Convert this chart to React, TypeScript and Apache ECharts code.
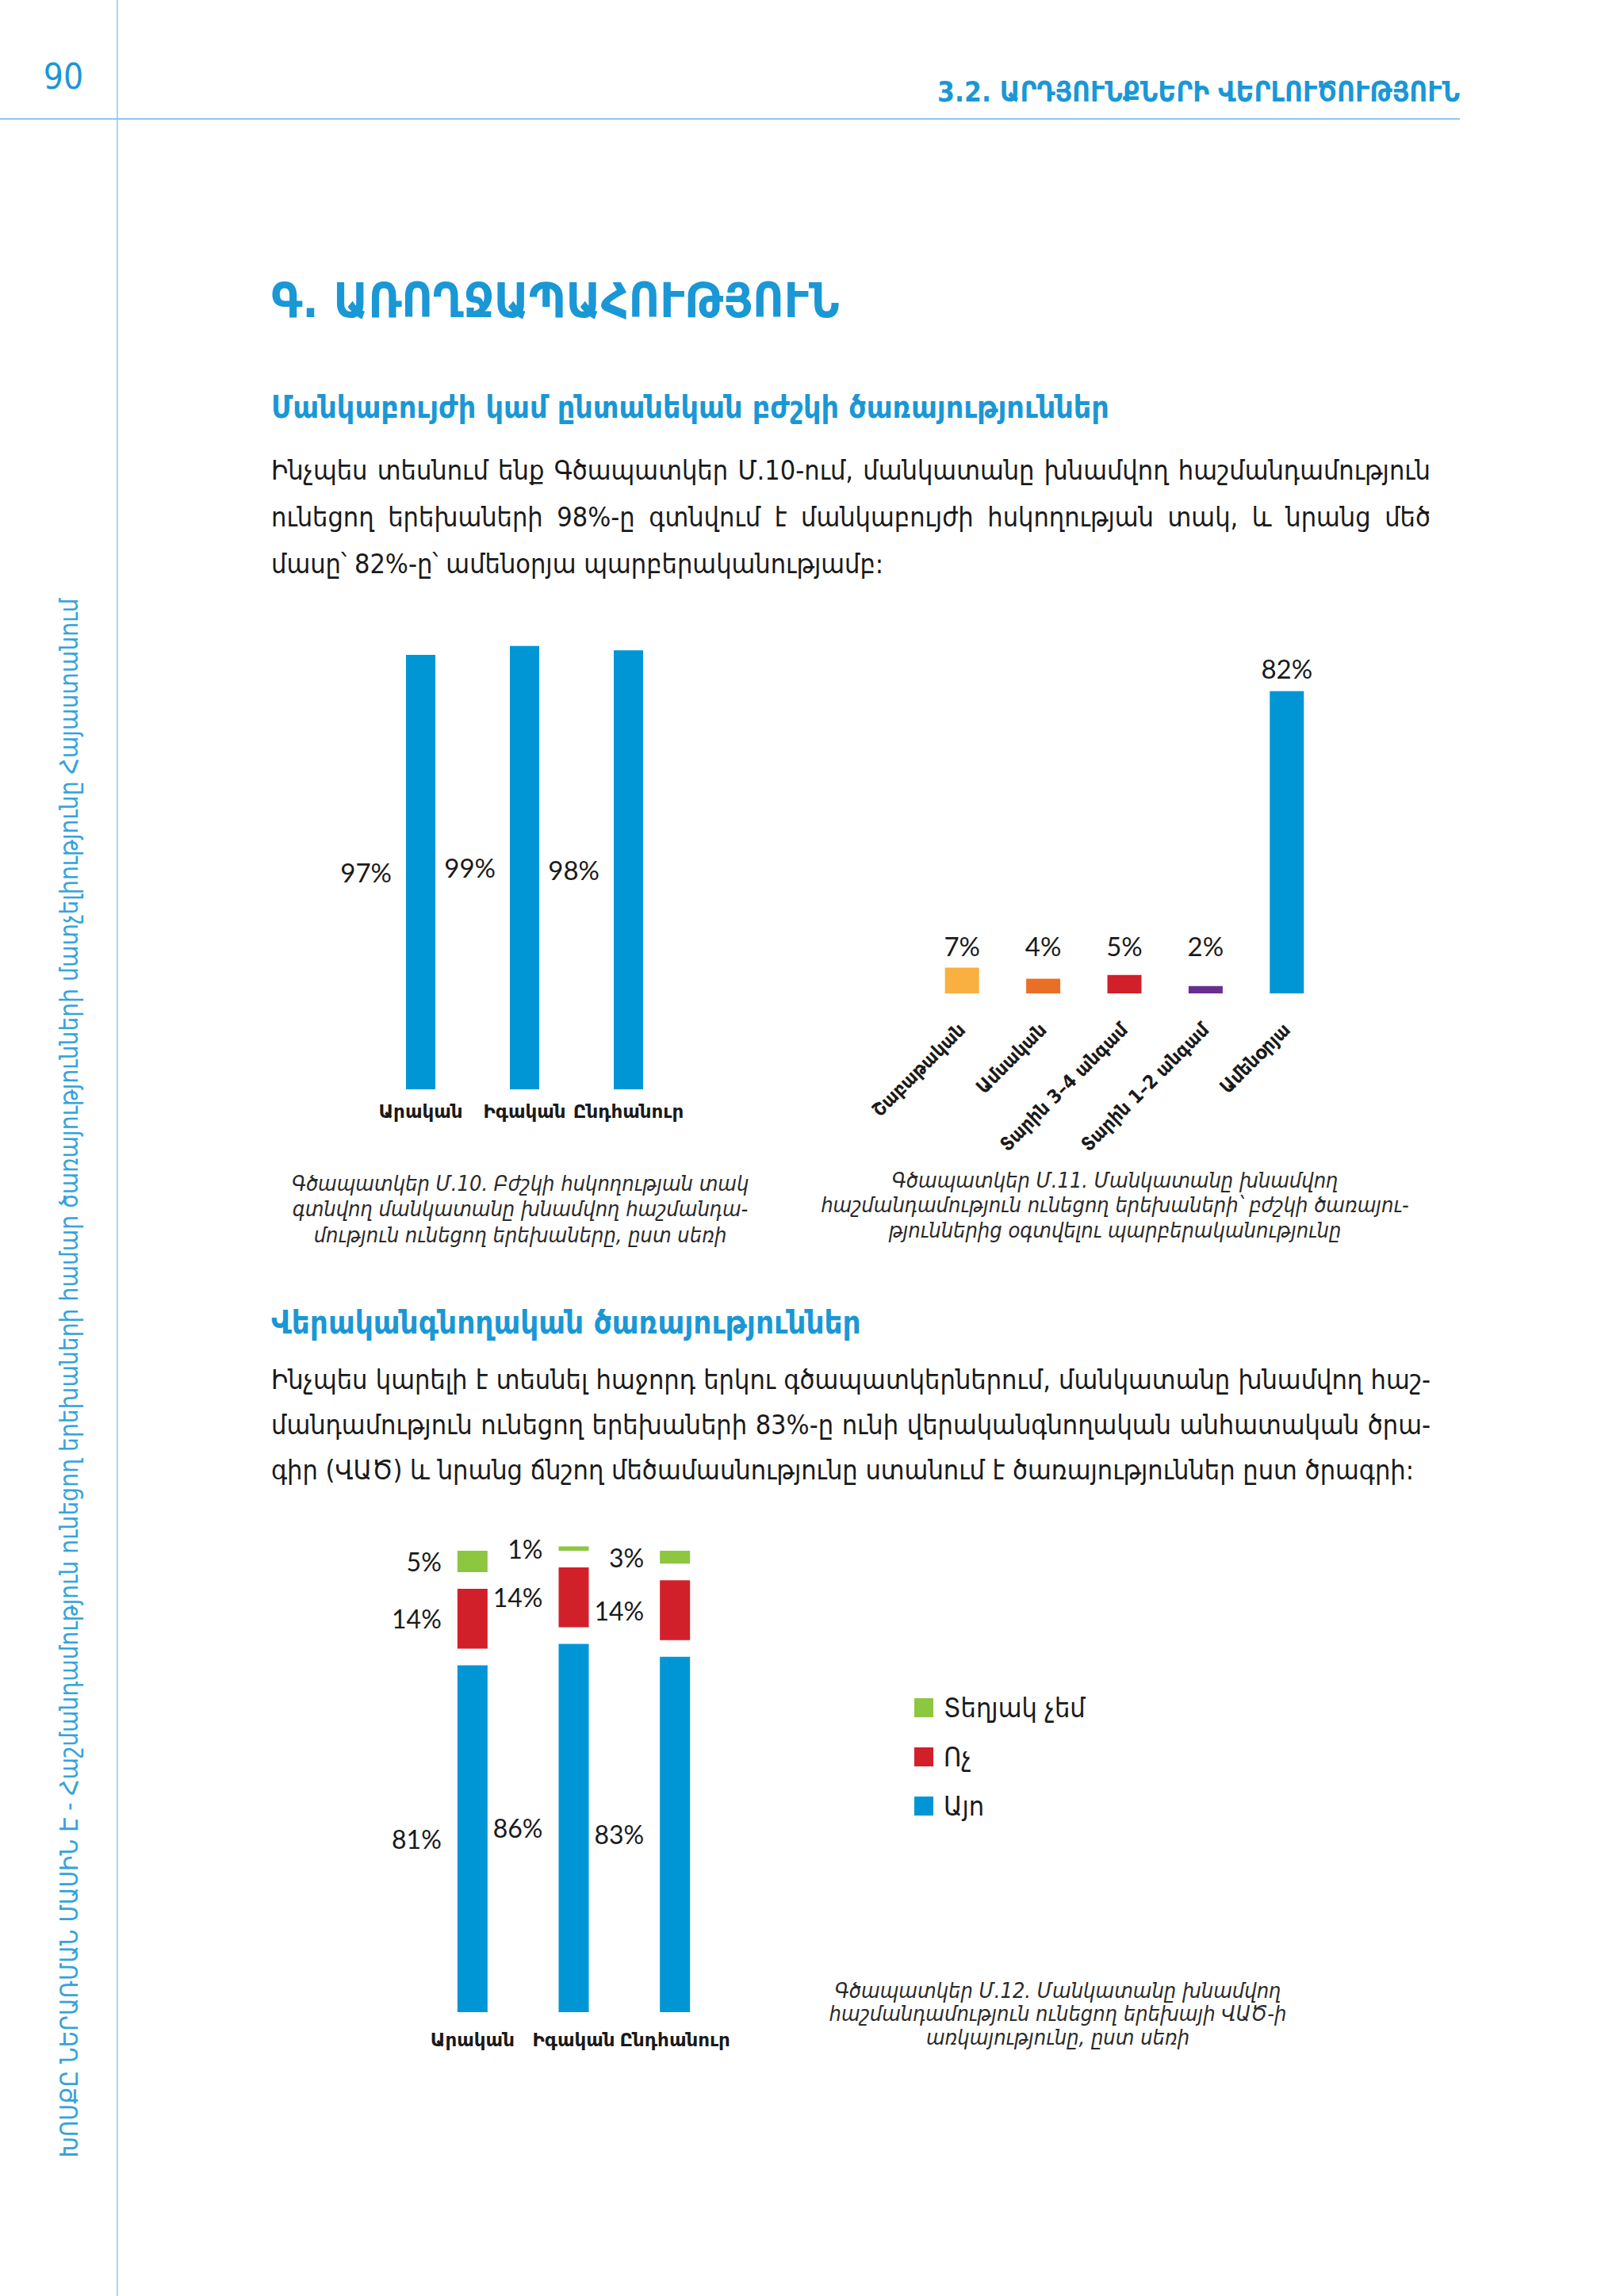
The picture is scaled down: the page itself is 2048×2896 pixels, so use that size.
import React, { useEffect, useRef } from "react";
import * as echarts from "echarts";

// ---------- DATA ----------
const genderCats = ["Արական", "Իգական", "Ընդհանուր"];
const underCareValues = [97, 99, 98];

const freqCats = ["Շաբաթական", "Ամսական", "Տարին 3–4 անգամ", "Տարին 1–2 անգամ", "Ամենօրյա"];
const freqValues = [7, 4, 5, 2, 82];
const freqColors = ["#F9B040", "#E96F27", "#D2202A", "#6A2D8F", "#0096D6"];

const ipYes = [81, 86, 83];
const ipNo = [14, 14, 14];
const ipDontKnow = [5, 1, 3];
const ipNames = ["Այո", "Ոչ", "Տեղյակ չեմ"];
const ipColors = ["#0096D6", "#D2202A", "#8DC63F"];

const pageNumber = "90";
const runningHead = "3.2. ԱՐԴՅՈՒՆՔՆԵՐԻ ՎԵՐԼՈՒԾՈՒԹՅՈՒՆ";
const chapterTitle = "Գ. ԱՌՈՂՋԱՊԱՀՈՒԹՅՈՒՆ";
const heading1 = "Մանկաբույժի կամ ընտանեկան բժշկի ծառայություններ";
const heading2 = "Վերականգնողական ծառայություններ";
const sideText =
  "ԽՈՍՔԸ ՆԵՐԱՌՄԱՆ ՄԱՍԻՆ Է - Հաշմանդամություն ունեցող երեխաների համար ծառայությունների մատչելիությունը Հայաստանում";

const para1 = [
  "Ինչպես տեսնում ենք Գծապատկեր Մ.10-ում, մանկատանը խնամվող հաշմանդամություն",
  "ունեցող երեխաների 98%-ը գտնվում է մանկաբույժի հսկողության տակ, և նրանց մեծ",
  "մասը՝ 82%-ը՝ ամենօրյա պարբերականությամբ:",
];
const para2 = [
  "Ինչպես կարելի է տեսնել հաջորդ երկու գծապատկերներում, մանկատանը խնամվող հաշ-",
  "մանդամություն ունեցող երեխաների 83%-ը ունի վերականգնողական անհատական ծրա-",
  "գիր (ՎԱԾ) և նրանց ճնշող մեծամասնությունը ստանում է ծառայություններ ըստ ծրագրի:",
];
const caption1 = [
  "Գծապատկեր Մ.10. Բժշկի հսկողության տակ",
  "գտնվող մանկատանը խնամվող հաշմանդա-",
  "մություն ունեցող երեխաները, ըստ սեռի",
];
const caption2 = [
  "Գծապատկեր Մ.11. Մանկատանը խնամվող",
  "հաշմանդամություն ունեցող երեխաների՝ բժշկի ծառայու-",
  "թյուններից օգտվելու պարբերականությունը",
];
const caption3 = [
  "Գծապատկեր Մ.12. Մանկատանը խնամվող",
  "հաշմանդամություն ունեցող երեխայի ՎԱԾ-ի",
  "առկայությունը, ըստ սեռի",
];

// ---------- STYLE ----------
const ARM = '"DejaVu Sans Condensed", "DejaVu Sans", sans-serif';
const ARM_BOLD = '"DejaVu Sans", sans-serif';
const NUM = 'Lato, "Open Sans", sans-serif';
const BLUE_TEXT = "#1A97D5";
const INK = "#1a1a1a";

function txt(x: number, y: number, text: string, o: any = {}) {
  const align = o.align || "left";
  return {
    type: "text",
    x,
    y,
    rotation: o.rotation || 0,
    style: {
      text,
      fill: o.fill || INK,
      fontSize: o.fontSize || 30,
      fontFamily: o.fontFamily || ARM,
      fontWeight: o.fontWeight || "normal",
      fontStyle: o.fontStyle || "normal",
      align,
      textAlign: align,
      verticalAlign: "middle",
      textVerticalAlign: "middle",
    },
  };
}

function captionLines(lines: string[], cx: number, y0: number, step: number) {
  return lines.map((l, i) =>
    txt(cx, y0 + i * step, l, { align: "center", fontSize: 27, fontStyle: "italic", fill: "#2a2a2a" })
  );
}

function segmentSeries(seg: number) {
  return {
    type: "custom",
    name: ipNames[seg],
    xAxisIndex: 2,
    yAxisIndex: 2,
    itemStyle: { color: ipColors[seg] },
    encode: { x: 0, y: 1 },
    data: genderCats.map((_, i) => [i, ipYes[i], ipNo[i], ipDontKnow[i]]),
    renderItem: (params: any, api: any) => {
      const i = api.value(0);
      const vals = [api.value(1), api.value(2), api.value(3)];
      const base = api.coord([i, 0]);
      const unit = api.size([1, 1])[1];
      const bw = 38;
      const gap = 21;
      let bottom = base[1];
      for (let k = 0; k < seg; k++) bottom -= vals[k] * unit + gap;
      const h = vals[seg] * unit;
      const x = base[0] - bw / 2;
      return {
        type: "group",
        children: [
          {
            type: "rect",
            shape: { x, y: bottom - h, width: bw, height: h },
            style: { fill: ipColors[seg] },
          },
          {
            type: "text",
            x: x - 20,
            y: bottom - h / 2,
            style: {
              text: vals[seg] + "%",
              fill: INK,
              fontSize: 32,
              fontFamily: NUM,
              align: "right",
              textAlign: "right",
              verticalAlign: "middle",
              textVerticalAlign: "middle",
            },
          },
        ],
      };
    },
  };
}

const catLabel = (margin: number) => ({
  show: true,
  margin,
  fontSize: 23,
  fontWeight: "bold",
  fontFamily: ARM_BOLD,
  color: INK,
  interval: 0,
});

export default function App() {
  const ref = useRef<HTMLDivElement>(null);

  useEffect(() => {
    if (!ref.current) return;
    const chart = echarts.init(ref.current, undefined, { renderer: "svg" });
    const option: any = {
      animation: false,
      backgroundColor: "#ffffff",
      grid: [
        { left: 465, top: 809, width: 393, height: 565 },
        { left: 1162, top: 788, width: 512, height: 465 },
        { left: 532, top: 1998, width: 383, height: 540 },
      ],
      xAxis: [
        {
          gridIndex: 0,
          type: "category",
          data: genderCats,
          axisLine: { show: false },
          axisTick: { show: false },
          axisLabel: catLabel(16),
        },
        {
          gridIndex: 1,
          type: "category",
          data: freqCats,
          axisLine: { show: false },
          axisTick: { show: false },
          axisLabel: { ...catLabel(42), rotate: 45, fontSize: 24, fontFamily: ARM },
        },
        {
          gridIndex: 2,
          type: "category",
          data: genderCats,
          axisLine: { show: false },
          axisTick: { show: false },
          axisLabel: catLabel(23),
        },
      ],
      yAxis: [0, 1, 2].map((g) => ({
        gridIndex: g,
        type: "value",
        min: 0,
        max: 100,
        show: false,
        splitLine: { show: false },
      })),
      legend: {
        orient: "vertical",
        left: 1148,
        top: 2132,
        icon: "rect",
        itemWidth: 24,
        itemHeight: 24,
        itemGap: 28,
        data: [2, 1, 0].map((s) => ({ name: ipNames[s], itemStyle: { color: ipColors[s] } })),
        textStyle: { fontSize: 34, fontFamily: ARM, color: INK, padding: [0, 0, 0, 8] },
      },
      series: [
        {
          type: "bar",
          xAxisIndex: 0,
          yAxisIndex: 0,
          data: underCareValues,
          barWidth: 37,
          itemStyle: { color: "#0096D6" },
          label: {
            show: true,
            position: "left",
            distance: 18,
            formatter: "{c}%",
            fontSize: 33,
            fontFamily: NUM,
            color: INK,
          },
        },
        {
          type: "bar",
          xAxisIndex: 1,
          yAxisIndex: 1,
          data: freqValues.map((v, i) => ({
            value: v,
            itemStyle: { color: freqColors[i] },
            label:
              v > 50
                ? { position: "top", distance: 12, offset: [0, 0] }
                : { position: "insideBottom", distance: 0, offset: [0, -44] },
          })),
          barWidth: 43,
          label: {
            show: true,
            formatter: "{c}%",
            fontSize: 33,
            fontFamily: NUM,
            color: INK,
          },
        },
        segmentSeries(0),
        segmentSeries(1),
        segmentSeries(2),
      ],
      graphic: [
        { type: "line", shape: { x1: 148, y1: 0, x2: 148, y2: 2896 }, style: { stroke: "#8EC6EA", lineWidth: 1.5 } },
        { type: "line", shape: { x1: 0, y1: 150, x2: 1841, y2: 150 }, style: { stroke: "#8EC6EA", lineWidth: 2 } },
        txt(80, 96, pageNumber, { align: "center", fontSize: 44, fill: BLUE_TEXT }),
        txt(1841, 116, runningHead, { align: "right", fontSize: 35, fontWeight: "bold", fill: BLUE_TEXT }),
        txt(342, 379, chapterTitle, { fontSize: 60, fontWeight: "bold", fill: BLUE_TEXT }),
        txt(342, 513, heading1, { fontSize: 39, fontWeight: "bold", fill: BLUE_TEXT }),
        txt(342, 1668, heading2, { fontSize: 40, fontWeight: "bold", fill: BLUE_TEXT }),
        txt(87, 1738, sideText, { align: "center", fontSize: 31.4, fill: "#35A3DC", rotation: Math.PI / 2 }),
        ...captionLines(caption1, 656, 1492, 32.5),
        ...captionLines(caption2, 1406, 1488, 31.5),
        ...captionLines(caption3, 1334, 2510, 29.5),
      ],
    };
    chart.setOption(option);
    return () => chart.dispose();
  }, []);

  const lineStyle = (top: number, justify: boolean): React.CSSProperties => ({
    position: "absolute",
    left: 342,
    top: top - 20,
    width: 1462,
    height: 40,
    lineHeight: "40px",
    fontFamily: ARM,
    fontSize: 34,
    color: INK,
    textAlign: justify ? "justify" : "left",
    textAlignLast: justify ? "justify" : "left",
    overflow: "visible",
  });

  const p1Y = [593, 652, 711];
  const p2Y = [1740, 1797, 1854];

  return (
    <div style={{ position: "absolute", left: 0, top: 0, width: 2048, height: 2896, background: "#fff" }}>
      <div ref={ref} style={{ position: "absolute", left: 0, top: 0, width: 2048, height: 2896 }} />
      {para1.map((l, i) => (
        <div key={"a" + i} style={lineStyle(p1Y[i], i < para1.length - 1)}>
          {l}
        </div>
      ))}
      {para2.map((l, i) => (
        <div key={"b" + i} style={lineStyle(p2Y[i], i < para2.length - 1)}>
          {l}
        </div>
      ))}
    </div>
  );
}
